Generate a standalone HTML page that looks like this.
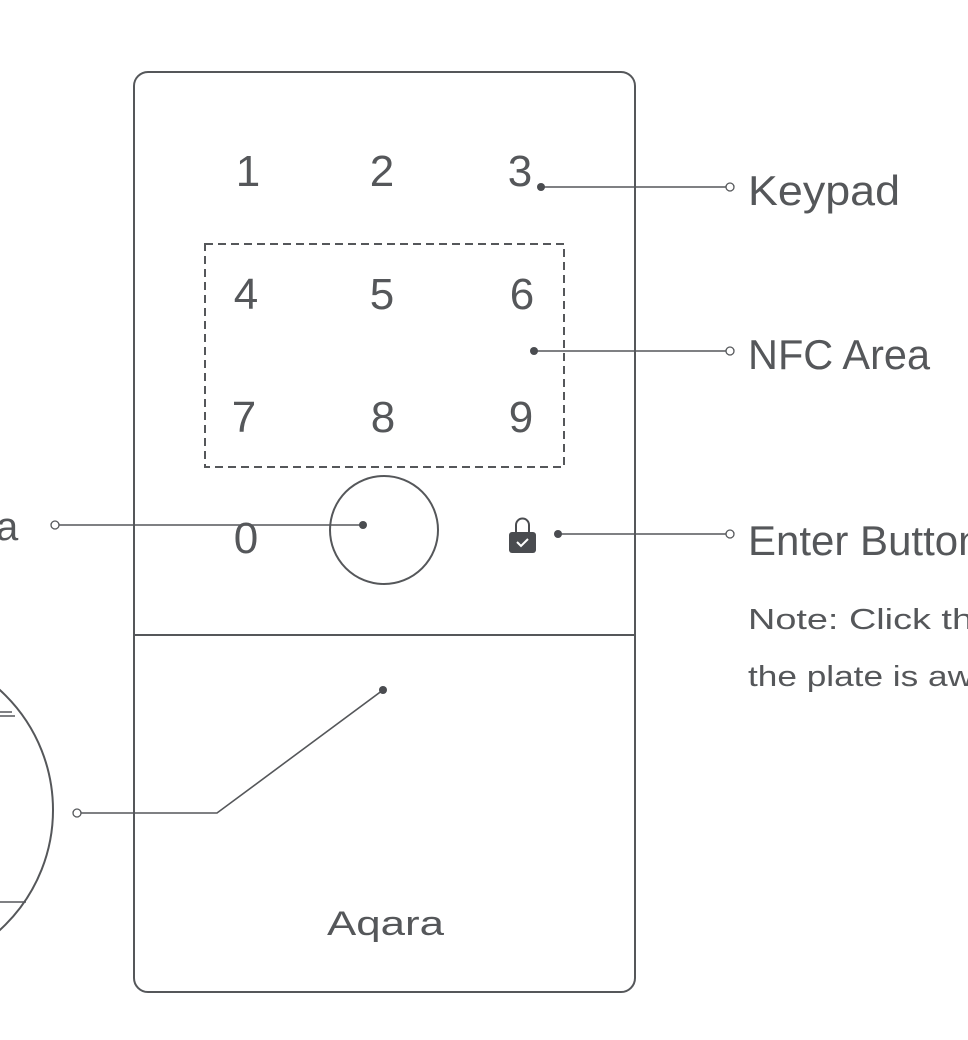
<!DOCTYPE html>
<html><head><meta charset="utf-8"><style>
html,body{margin:0;padding:0;background:#fff;}
svg{display:block;}
text{font-family:"Liberation Sans",sans-serif;fill:#55575a;}
</style></head><body>
<svg width="968" height="1040" viewBox="0 0 968 1040" xmlns="http://www.w3.org/2000/svg">
<g fill="none" stroke="#55575a" stroke-width="2">
<rect x="134" y="72" width="501" height="920" rx="14"/>
<line x1="134" y1="635" x2="635" y2="635"/>
<rect x="205" y="244" width="359" height="223" stroke-dasharray="8,5"/>
<circle cx="384" cy="530" r="54"/>
<circle cx="-109" cy="810" r="162"/>
<line x1="0" y1="712" x2="12" y2="712" stroke-width="1.5"/>
<line x1="0" y1="716" x2="15" y2="716" stroke-width="1.5"/>
<line x1="0" y1="902" x2="26" y2="902" stroke-width="1.5"/>
<g stroke-width="1.6">
<line x1="541" y1="187" x2="726" y2="187"/>
<line x1="534" y1="351" x2="726" y2="351"/>
<line x1="558" y1="534" x2="726" y2="534"/>
<line x1="59" y1="525" x2="363" y2="525"/>
<polyline points="81,813 217,813 383,690"/>
</g>
</g>
<g fill="#4a4c50">
<circle cx="541" cy="187" r="4"/>
<circle cx="534" cy="351" r="4"/>
<circle cx="558" cy="534" r="4"/>
<circle cx="363" cy="525" r="4"/>
<circle cx="383" cy="690" r="4"/>
</g>
<g fill="#fff" stroke="#55575a" stroke-width="1.3">
<circle cx="730" cy="187" r="4"/>
<circle cx="730" cy="351" r="4"/>
<circle cx="730" cy="534" r="4"/>
<circle cx="55" cy="525" r="4"/>
<circle cx="77" cy="813" r="4"/>
</g>
<!-- lock -->
<path d="M516,533 v-8 a6.5,6.5 0 0 1 13,0 v8" fill="none" stroke="#4a4c50" stroke-width="2"/>
<rect x="509" y="532" width="27" height="21" rx="3" fill="#4a4c50"/>
<polyline points="517,542 521,546 528,539" fill="none" stroke="#fff" stroke-width="2"/>
<g font-size="44" text-anchor="middle">
<text x="248" y="186">1</text><text x="382" y="186">2</text><text x="520" y="186">3</text>
<text x="246" y="309">4</text><text x="382" y="309">5</text><text x="522" y="309">6</text>
<text x="244" y="432">7</text><text x="383" y="432">8</text><text x="521" y="432">9</text>
<text x="246" y="553">0</text>
</g>
<text x="748" y="205" font-size="42" textLength="152" lengthAdjust="spacingAndGlyphs">Keypad</text>
<text x="748" y="369" font-size="42" textLength="182" lengthAdjust="spacingAndGlyphs">NFC Area</text>
<text x="748" y="555" font-size="42">Enter Button</text>
<text x="748" y="629" font-size="29" textLength="225" lengthAdjust="spacingAndGlyphs">Note:  Click th</text>
<text x="748" y="686" font-size="29" textLength="225" lengthAdjust="spacingAndGlyphs">the plate is aw</text>
<text x="-4" y="540" font-size="40">a</text>
<text x="327" y="935" font-size="34" textLength="117" lengthAdjust="spacingAndGlyphs">Aqara</text>
</svg>
</body></html>
